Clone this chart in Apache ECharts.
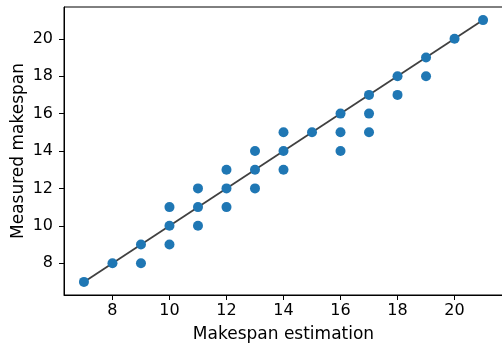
<!DOCTYPE html>
<html><head><meta charset="utf-8">
<script src="https://cdn.jsdelivr.net/npm/echarts@6/dist/echarts.min.js"></script>
<style>html,body{margin:0;padding:0;background:#fff}#c{width:502px;height:347px}</style>
</head><body><div id="c"></div>
<script>
const estimation = [7,8,9,9,10,10,10,11,11,11,12,12,12,13,13,13,14,14,14,15,16,16,16,17,17,17,18,18,19,19,20,21];
const measured   = [7,8,9,8,11,10,9,12,11,10,13,12,11,14,13,12,15,14,13,15,16,15,14,17,16,15,18,17,19,18,20,21];
const lineX = [7,21];
const lineY = [7,21];
const xTicks = [8,10,12,14,16,18,20];
const yTicks = [8,10,12,14,16,18,20];

const chart = echarts.init(document.getElementById('c'), null, {renderer:'canvas'});
const font = 'DejaVu Sans';
chart.setOption({
  animation:false,
  grid:{left:64,top:7,width:439,height:288,show:true,borderColor:'#000',borderWidth:1,
        containLabel:false,outerBoundsMode:'none'},
  xAxis:{type:'value',min:6.3,max:21.7,
    name:'Makespan estimation',nameLocation:'middle',nameGap:31,nameMoveOverlap:false,
    nameTextStyle:{fontFamily:font,fontSize:17,color:'#000'},
    axisLine:{show:true,lineStyle:{color:'#000',width:1}},
    axisTick:{show:true,length:5,customValues:xTicks,lineStyle:{color:'#000'}},
    axisLabel:{customValues:xTicks,fontFamily:font,fontSize:16,color:'#000',margin:8},
    splitLine:{show:false}},
  yAxis:{type:'value',min:6.3,max:21.7,
    name:'Measured makespan',nameLocation:'middle',nameGap:37,nameMoveOverlap:false,
    nameTextStyle:{fontFamily:font,fontSize:17,color:'#000'},
    axisLine:{show:true,lineStyle:{color:'#000',width:1}},
    axisTick:{show:true,length:5,customValues:yTicks,lineStyle:{color:'#000'}},
    axisLabel:{customValues:yTicks,fontFamily:font,fontSize:16,color:'#000',margin:11},
    splitLine:{show:false}},
  series:[
    {type:'line',data:lineX.map((x,i)=>[x,lineY[i]]),symbol:'none',
     lineStyle:{color:'#404040',width:1.8},z:1},
    {type:'scatter',data:estimation.map((x,i)=>[x,measured[i]]),symbolSize:10,
     itemStyle:{color:'#1f77b4',opacity:1},z:2}
  ]
});
</script></body></html>
